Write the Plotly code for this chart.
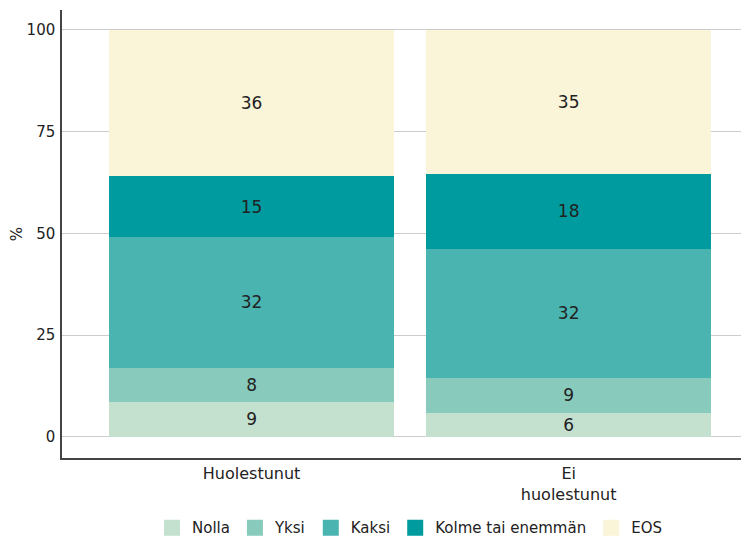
import plotly.graph_objects as go

categories = ["Huolestunut", "Ei<br>huolestunut"]
series_names = ["Nolla", "Yksi", "Kaksi", "Kolme tai enemmän", "EOS"]
nolla = [8.6, 5.9]
yksi = [8.4, 8.6]
kaksi = [32.1, 31.7]
kolme = [15.0, 18.4]
eos = [35.9, 35.4]
colors = ["#c4e1cf", "#88cabc", "#4ab5b0", "#009b9f", "#faf4d8"]
y_ticks = [0, 25, 50, 75, 100]

values = [nolla, yksi, kaksi, kolme, eos]
FONT = "DejaVu Sans, sans-serif"

fig = go.Figure()
for name, vals, col in zip(series_names, values, colors):
    fig.add_trace(go.Bar(
        x=[0, 1], y=vals, name=name, marker=dict(color=col, line=dict(width=0)),
        width=0.9, showlegend=False,
        text=[f"{round(v):d}" for v in vals], textposition="inside",
        insidetextanchor="middle", textangle=0, constraintext="none",
        textfont=dict(family=FONT, size=17, color="#222222"),
        hoverinfo="skip",
    ))
# legend entries with larger square swatches
for name, col in zip(series_names, colors):
    fig.add_trace(go.Scatter(
        x=[None], y=[None], mode="markers", name=name,
        marker=dict(symbol="square", size=16, color=col, line=dict(width=0)),
        hoverinfo="skip",
    ))

fig.update_layout(
    barmode="stack",
    width=749, height=538,
    margin=dict(l=54, r=0, t=2, b=88, autoexpand=False),
    paper_bgcolor="white", plot_bgcolor="white",
    font=dict(family=FONT, size=15, color="#222222"),
    legend=dict(orientation="h", x=0.5, xanchor="center", y=-0.156, yanchor="middle",
                font=dict(size=15, color="#222222"), traceorder="normal",
                itemwidth=30, itemsizing="trace"),
    showlegend=True,
)
fig.update_xaxes(
    tickmode="array", tickvals=[0, 1], ticktext=categories,
    range=[-0.598, 1.594], showline=True, linecolor="#444444", linewidth=1.5,
    ticks="", showgrid=False, zeroline=False, automargin=False,
    tickfont=dict(size=16, color="#222222"),
)
fig.update_yaxes(
    range=[-5.2, 104.9], tickvals=y_ticks, showline=True, linecolor="#444444", linewidth=1.5,
    showgrid=True, gridcolor="#cccccc", gridwidth=1, zeroline=False, ticks="", automargin=False,
    title=dict(text="%", font=dict(size=15, color="#222222"), standoff=12),
    tickfont=dict(size=15, color="#222222"), ticklabelstandoff=2,
)
fig.write_html("out.html")
